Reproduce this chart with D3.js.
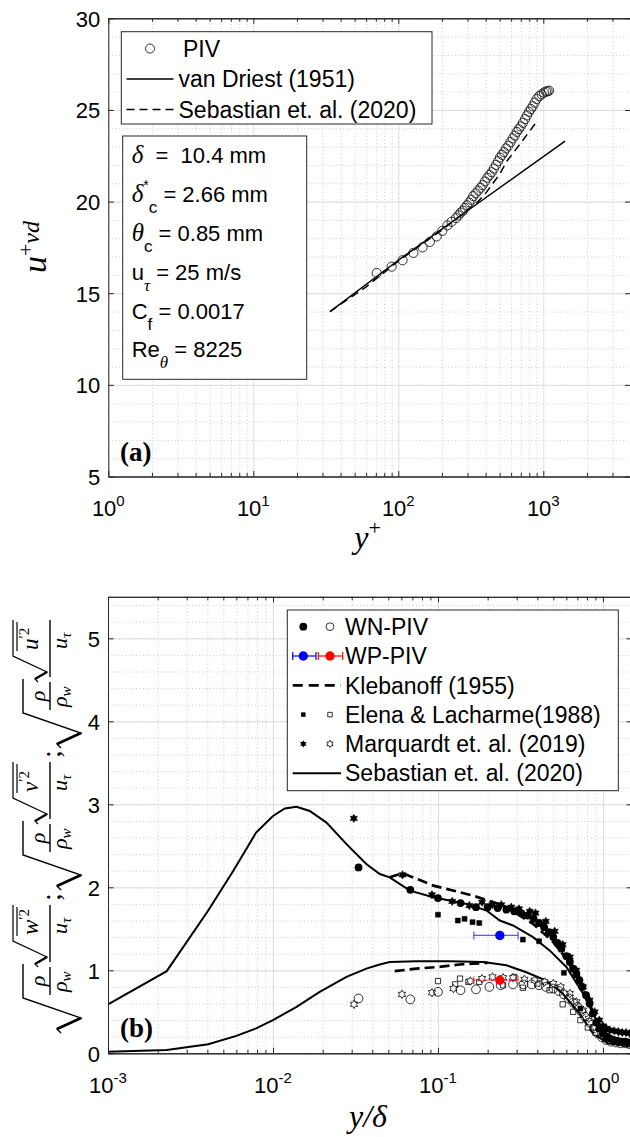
<!DOCTYPE html>
<html>
<head>
<meta charset="utf-8">
<script src="https://cdn.jsdelivr.net/npm/d3@7"></script>
<style>
body{margin:0;background:#fff}
</style>
</head>
<body>
<svg id="fig" width="630" height="1137" font-family="Liberation Sans, Arial, sans-serif"></svg>
<script>

// ---------- panel (a) : u+vd vs y+
var pivYp = [71,90,107,127,147,165,184,201,218,233,250,260,269,279,288,298,309,319,329,342,356,369,382,396,411,426,441,456,472,487,503,519,535,554,574,594,615,635,656,677,699,723,748,772,797,821,845,872,900,937,975,1010,1043,1070,1096];
var pivU  = [16.1,16.45,16.8,17.2,17.5,17.8,18.1,18.4,18.7,18.9,19.1,19.25,19.4,19.5,19.65,19.8,19.95,20.1,20.3,20.45,20.6,20.75,20.9,21.1,21.3,21.45,21.6,21.8,22.0,22.2,22.4,22.55,22.7,22.9,23.05,23.25,23.45,23.6,23.8,23.95,24.1,24.3,24.5,24.7,24.9,25.05,25.2,25.4,25.6,25.75,25.85,25.95,26.0,26.02,26.05];
var vdYp = [33.8,100,300,1413];
var vdU  = [14.0,16.8,19.5,23.3];
var sebAYp = [33.8,60,100,150,200,250,300,350,400,450,500,560,620,700,780,880];
var sebAU  = [14.0,15.35,16.75,17.75,18.45,19.05,19.55,19.95,20.45,21.0,21.5,22.2,22.65,23.2,23.7,24.25];
var xTicksA = [1,10,100,1000];
var xExpA = ['0','1','2','3'];
var yTicksA = [5,10,15,20,25,30];
var legendA = ['PIV','van Driest (1951)','Sebastian et. al. (2020)'];

// ---------- panel (b) : rms profiles vs y/delta
var sebUx = [0.001,0.00227,0.00405,0.00575,0.0079,0.01,0.0118,0.0139,0.0167,0.0211,0.0279,0.0368,0.0444,0.051,0.0676,0.0936,0.149,0.197,0.237,0.285,0.377,0.475,0.6,0.757,0.87,1.0,1.2,1.5];
var sebUv = [0.59,0.99,1.72,2.2,2.66,2.86,2.95,2.97,2.92,2.78,2.52,2.28,2.16,2.12,1.96,1.88,1.80,1.72,1.60,1.54,1.40,1.24,1.04,0.72,0.48,0.24,0.12,0.08];
var sebVx = [0.001,0.00227,0.00405,0.006,0.0079,0.01,0.0139,0.0192,0.0279,0.0368,0.0444,0.051,0.074,0.1175,0.188,0.26,0.34,0.45,0.57,0.72,0.87,1.07,1.5];
var sebVv = [0.02,0.04,0.11,0.21,0.30,0.40,0.56,0.74,0.92,1.02,1.07,1.10,1.11,1.11,1.10,1.06,0.98,0.88,0.72,0.48,0.24,0.12,0.08];
var klebUx = [0.051,0.061,0.094,0.163,0.25,0.377,0.5,0.6,0.757,0.87,1.0];
var klebUv = [2.12,2.17,2.02,1.90,1.78,1.56,1.34,1.14,0.78,0.5,0.26];
var klebVx = [0.0547,0.074,0.1,0.135,0.163,0.2];
var klebVv = [0.99,1.02,1.04,1.07,1.08,1.09];
var wnFx = [0.033,0.068,0.1,0.137,0.17,0.2,0.23,0.26,0.29,0.32,0.35,0.38,0.41,0.44,0.47,0.5,0.53,0.56,0.6,0.63,0.66,0.69,0.72,0.75,0.79,0.83,0.87,0.91,0.95,1.0,1.05,1.1,1.16,1.22,1.29,1.36,1.44];
var wnFv = [2.24,1.97,1.87,1.81,1.76,1.76,1.75,1.73,1.71,1.69,1.66,1.62,1.57,1.52,1.46,1.40,1.33,1.26,1.17,1.10,1.02,0.95,0.88,0.80,0.70,0.60,0.48,0.37,0.30,0.24,0.20,0.18,0.16,0.15,0.14,0.14,0.13];
var wnOx = [0.033,0.068,0.1,0.137,0.17,0.205,0.24,0.285,0.33,0.37,0.41,0.45,0.5,0.54,0.58,0.62,0.66,0.7,0.74,0.78,0.83,0.88,0.93,0.99,1.05,1.12,1.2,1.28,1.37,1.45];
var wnOv = [0.66,0.65,0.74,0.76,0.77,0.80,0.82,0.83,0.83,0.83,0.82,0.80,0.78,0.75,0.71,0.66,0.61,0.56,0.50,0.44,0.37,0.30,0.24,0.19,0.16,0.14,0.13,0.12,0.12,0.11];
var elFx = [0.1,0.132,0.145,0.162,0.178,0.327,0.41,0.58,0.73];
var elFv = [1.67,1.60,1.62,1.58,1.57,1.37,1.35,0.97,0.54];
var elOx = [0.1,0.127,0.136,0.153,0.178,0.248,0.29,0.327,0.4,0.475,0.57,0.66,0.73,0.81,0.9];
var elOv = [0.87,0.83,0.90,0.86,0.86,0.82,0.92,0.79,0.84,0.76,0.59,0.50,0.40,0.31,0.25];
var mqFx = [0.0309,0.061,0.092,0.122,0.155,0.185,0.214,0.242,0.278,0.31,0.36,0.39,0.45,0.51,0.57,0.63,0.69,0.757,0.83,0.89,0.95,1.0,1.05,1.1,1.17,1.24,1.31,1.38,1.45];
var mqFv = [2.83,2.15,1.91,1.83,1.78,1.82,1.79,1.79,1.76,1.74,1.71,1.69,1.59,1.47,1.31,1.16,1.0,0.80,0.64,0.50,0.40,0.33,0.30,0.28,0.27,0.26,0.25,0.25,0.24];
var mqOx = [0.031,0.0605,0.092,0.124,0.157,0.185,0.214,0.248,0.285,0.334,0.385,0.443,0.5,0.555,0.63,0.69,0.757,0.82,0.89,0.97,1.07,1.24];
var mqOv = [0.59,0.71,0.73,0.78,0.87,0.90,0.92,0.91,0.91,0.89,0.88,0.86,0.84,0.80,0.72,0.62,0.52,0.42,0.32,0.24,0.18,0.15];
var wpX = 0.237, wpLo = 0.165, wpHi = 0.306;
var wpBlue = 1.42, wpRed = 0.88;
var xTicksB = [0.001,0.01,0.1,1];
var xExpB = ['-3','-2','-1','0'];
var yTicksB = [0,1,2,3,4,5];
var legendB = ['WN-PIV','WP-PIV','Klebanoff (1955)','Elena & Lacharme(1988)','Marquardt et. al. (2019)','Sebastian et. al. (2020)'];

var svg = d3.select('#fig');
var ink = '#262626';
var sansF = 'Liberation Sans, Arial, sans-serif';
var serifI = 'Liberation Serif, Times New Roman, serif';

var PA = {left:108.3, right:630.6, top:18.3, bottom:476.5};
var PB = {left:108, right:632, top:596.8, bottom:1053.3};

var xA = d3.scaleLog().domain([1,4000]).range([PA.left,PA.right]);
var yA = d3.scaleLinear().domain([5,30]).range([PA.bottom,PA.top]);
var xB = d3.scaleLog().domain([1e-3,1.5]).range([PB.left,PB.right]);
var yB = d3.scaleLinear().domain([0,5.5]).range([PB.bottom,PB.top]);

function minorLog(dom){
	var out = [];
	for(var d=Math.floor(Math.log10(dom[0])); d<=Math.ceil(Math.log10(dom[1])); d++){
		for(var m=2;m<=9;m++){
			var v = m*Math.pow(10,d);
			if(v>dom[0] && v<dom[1]) out.push(v);
		}
	}
	return out;
}

function drawFrame(x, y, P, xMaj, yMaj, yMin){
	var g = svg.append('g');
	var w = P.right-P.left, h = P.bottom-P.top;
	var xMin = minorLog(x.domain());
	var dotted = function(s){ s.select('.domain').remove(); s.selectAll('line').attr('stroke','#bdbdbd').attr('stroke-dasharray','1,2.5').attr('stroke-width',0.8); };
	var solid = function(s){ s.select('.domain').remove(); s.selectAll('line').attr('stroke','#dedede').attr('stroke-width',1); };
	// minor grid (dotted)
	g.append('g').attr('transform','translate(0,'+P.bottom+')')
		.call(d3.axisBottom(x).tickValues(xMin).tickSize(-h).tickFormat('')).call(dotted);
	g.append('g').attr('transform','translate('+P.left+',0)')
		.call(d3.axisLeft(y).tickValues(yMin).tickSize(-w).tickFormat('')).call(dotted);
	// major grid
	g.append('g').attr('transform','translate(0,'+P.bottom+')')
		.call(d3.axisBottom(x).tickValues(xMaj).tickSize(-h).tickFormat('')).call(solid);
	g.append('g').attr('transform','translate('+P.left+',0)')
		.call(d3.axisLeft(y).tickValues(yMaj).tickSize(-w).tickFormat('')).call(solid);
}

function drawAxes(x, y, P, xMaj, xExp, yMaj){
	var g = svg.append('g');
	var xMin = minorLog(x.domain());
	var style = function(s){ s.selectAll('path,line').attr('stroke',ink).attr('stroke-width',1); };
	g.append('g').attr('transform','translate(0,'+P.bottom+')')
		.call(d3.axisBottom(x).tickValues(xMin).tickSize(-3.5).tickSizeOuter(0).tickFormat('')).call(style);
	g.append('g').attr('transform','translate(0,'+P.bottom+')')
		.call(d3.axisBottom(x).tickValues(xMaj).tickSize(-5.5).tickSizeOuter(0).tickFormat('')).call(style);
	g.append('g').attr('transform','translate(0,'+P.top+')')
		.call(d3.axisTop(x).tickValues(xMin).tickSize(-3.5).tickSizeOuter(0).tickFormat('')).call(style);
	g.append('g').attr('transform','translate(0,'+P.top+')')
		.call(d3.axisTop(x).tickValues(xMaj).tickSize(-5.5).tickSizeOuter(0).tickFormat('')).call(style);
	g.append('g').attr('transform','translate('+P.right+',0)')
		.call(d3.axisRight(y).tickValues(yMaj).tickSize(-5.5).tickSizeOuter(0).tickFormat('')).call(style);
	var ly = g.append('g').attr('transform','translate('+P.left+',0)')
		.call(d3.axisLeft(y).tickValues(yMaj).tickSize(-5.5).tickSizeOuter(0).tickPadding(8).tickFormat(d3.format('d'))).call(style);
	ly.selectAll('text').attr('font-size',22).attr('font-family',sansF).attr('fill','#000').attr('dy','0.36em');
	// decade labels with superscripts
	var t = g.selectAll('.xl').data(xMaj).enter().append('text')
		.attr('x', function(d){ return x(d); })
		.attr('y', P.bottom+39.5)
		.attr('text-anchor','middle')
		.attr('font-size',22);
	t.append('tspan').text('10');
	t.append('tspan').attr('dy',-10).attr('font-size',15).text(function(d,i){ return xExp[i]; });
}

function clip(id, P){
	svg.append('clipPath').attr('id',id).append('rect')
		.attr('x',P.left).attr('y',P.top).attr('width',P.right-P.left).attr('height',P.bottom-P.top);
}
clip('clipA',PA); clip('clipB',PB);

var hexagram = {
	draw: function(ctx, size){
		var r = Math.sqrt(size)*0.62, ri = r/Math.sqrt(3);
		for(var i=0;i<12;i++){
			var a = Math.PI/6*i - Math.PI/2;
			var rr = (i%2) ? ri : r;
			if(i==0) ctx.moveTo(rr*Math.cos(a), rr*Math.sin(a));
			else ctx.lineTo(rr*Math.cos(a), rr*Math.sin(a));
		}
		ctx.closePath();
	}
};

// ===================== panel (a)
drawFrame(xA, yA, PA, xTicksA, yTicksA, d3.range(5,31,1));

var dA = svg.append('g').attr('clip-path','url(#clipA)');
var lineA = d3.line().x(function(d){ return xA(d[0]); }).y(function(d){ return yA(d[1]); });

dA.append('path').datum(d3.zip(vdYp, vdU)).attr('d',lineA)
	.attr('fill','none').attr('stroke','#000').attr('stroke-width',1.5);
dA.append('path').datum(d3.zip(sebAYp, sebAU)).attr('d',lineA)
	.attr('fill','none').attr('stroke','#000').attr('stroke-width',1.5).attr('stroke-dasharray','8,5');
dA.selectAll('.piv').data(d3.zip(pivYp, pivU)).enter().append('circle')
	.attr('cx',function(d){ return xA(d[0]); })
	.attr('cy',function(d){ return yA(d[1]); })
	.attr('r',4.6)
	.attr('fill','none').attr('stroke','#1a1a1a').attr('stroke-width',0.9);

drawAxes(xA, yA, PA, xTicksA, xExpA, yTicksA);

// legend (a)
var lgA = svg.append('g');
lgA.append('rect').attr('x',121.3).attr('y',31.7).attr('width',310.7).attr('height',92.3)
	.attr('fill','#fff').attr('stroke',ink).attr('stroke-width',1);
var rowsA = [48.5,79,109.5];
lgA.append('circle').attr('cx',150).attr('cy',rowsA[0]).attr('r',4.5).attr('fill','none').attr('stroke','#1a1a1a').attr('stroke-width',0.9);
lgA.append('line').attr('x1',126.5).attr('x2',173.5).attr('y1',rowsA[1]).attr('y2',rowsA[1]).attr('stroke','#000').attr('stroke-width',1.5);
lgA.append('line').attr('x1',126.5).attr('x2',173.5).attr('y1',rowsA[2]).attr('y2',rowsA[2]).attr('stroke','#000').attr('stroke-width',1.5).attr('stroke-dasharray','8,5');
lgA.selectAll('.lt').data(legendA).enter().append('text')
	.attr('x',function(d,i){ return i==0 ? 183 : 178.5; })
	.attr('y',function(d,i){ return rowsA[i]+8.2; })
	.attr('font-size',23)
	.text(function(d){ return d; });

// parameter box
var ann = svg.append('g');
ann.append('rect').attr('x',122.7).attr('y',136).attr('width',184).attr('height',243.3)
	.attr('fill','#fff').attr('stroke',ink).attr('stroke-width',1);
var annBase = [163.3,202.1,240.9,279.7,318.5,357.3];
var annParts = [
	[['δ','i'],['\u00a0 =\u00a0 10.4 mm','n']],
	[['δ','i'],['*','sup'],['c','sub'],[' = 2.66 mm','n']],
	[['θ','i'],['c','sub'],[' = 0.85 mm','n']],
	[['u','n'],['τ','subi'],[' = 25 m/s','n']],
	[['C','n'],['f','sub'],[' = 0.0017','n']],
	[['Re','n'],['θ','subi'],[' = 8225','n']]
];
annParts.forEach(function(parts, i){
	var t = ann.append('text').attr('x',131.7).attr('y',annBase[i]).attr('font-size',22);
	var shift = 0;
	parts.forEach(function(p){
		var s = t.append('tspan').text(p[0]);
		var target = 0;
		if(p[1]=='i'){ s.attr('font-family',serifI).attr('font-style','italic').attr('font-size',25); }
		if(p[1]=='sup'){ s.attr('font-size',14); target = -12; }
		if(p[1]=='sub'){ s.attr('font-size',17); target = 11; }
		if(p[1]=='subi'){ s.attr('font-family',serifI).attr('font-style','italic').attr('font-size',17); target = 11; }
		if(target!=shift) s.attr('dy', target-shift);
		shift = target;
	});
});

svg.append('text').attr('x',120).attr('y',PA.bottom-16).attr('font-family',serifI)
	.attr('font-weight','bold').attr('font-size',27).text('(a)');

// axis labels (a)
var xlabA = svg.append('text').attr('x',367.5).attr('y',548).attr('text-anchor','middle')
	.attr('font-family',serifI).attr('font-style','italic').attr('font-size',32);
xlabA.append('tspan').text('y');
xlabA.append('tspan').attr('dy',-13).attr('font-size',22).attr('font-style','normal').text('+');

var ylabA = svg.append('text').attr('transform','translate(46,247) rotate(-90)').attr('text-anchor','middle')
	.attr('font-family',serifI).attr('font-style','italic').attr('font-size',34);
ylabA.append('tspan').text('u');
ylabA.append('tspan').attr('dy',-13).attr('font-size',22).attr('font-style','normal').text('+');
ylabA.append('tspan').attr('dy',6).attr('font-size',24).text('vd');

// ===================== panel (b)
drawFrame(xB, yB, PB, xTicksB, yTicksB, d3.range(0,5.51,0.2));

var dB = svg.append('g').attr('clip-path','url(#clipB)');
var lineB = d3.line().x(function(d){ return xB(d[0]); }).y(function(d){ return yB(d[1]); });

dB.append('path').datum(d3.zip(sebUx, sebUv)).attr('d',lineB).attr('fill','none').attr('stroke','#000').attr('stroke-width',2);
dB.append('path').datum(d3.zip(sebVx, sebVv)).attr('d',lineB).attr('fill','none').attr('stroke','#000').attr('stroke-width',2);
dB.append('path').datum(d3.zip(klebUx, klebUv)).attr('d',lineB).attr('fill','none').attr('stroke','#000').attr('stroke-width',2.7).attr('stroke-dasharray','10,5');
dB.append('path').datum(d3.zip(klebVx, klebVv)).attr('d',lineB).attr('fill','none').attr('stroke','#000').attr('stroke-width',2.7).attr('stroke-dasharray','10,5');

function sym(data, type, size, filled){
	dB.append('g').selectAll('path').data(data).enter().append('path')
		.attr('transform',function(d){ return 'translate('+xB(d[0])+','+yB(d[1])+')'; })
		.attr('d', d3.symbol().type(type).size(size))
		.attr('fill', filled ? '#000' : '#fff')
		.attr('stroke','#000').attr('stroke-width', filled ? 0.5 : 0.8);
}
sym(d3.zip(elOx, elOv), d3.symbolSquare, 28, false);
sym(d3.zip(mqOx, mqOv), hexagram, 46, false);
dB.append('g').selectAll('circle').data(d3.zip(wnOx, wnOv)).enter().append('circle')
	.attr('cx',function(d){ return xB(d[0]); }).attr('cy',function(d){ return yB(d[1]); })
	.attr('r',4.4).attr('fill','none').attr('stroke','#000').attr('stroke-width',0.8);
sym(d3.zip(elFx, elFv), d3.symbolSquare, 25, true);
dB.append('g').selectAll('circle').data(d3.zip(wnFx, wnFv)).enter().append('circle')
	.attr('cx',function(d){ return xB(d[0]); }).attr('cy',function(d){ return yB(d[1]); })
	.attr('r',3.9).attr('fill','#000');
sym(d3.zip(mqFx, mqFv), hexagram, 46, true);

// WP-PIV with error bars
[[wpBlue,'#0000ff'],[wpRed,'#ff0000']].forEach(function(p){
	var g = dB.append('g');
	var yy = yB(p[0]);
	g.append('line').attr('x1',xB(wpLo)).attr('x2',xB(wpHi)).attr('y1',yy).attr('y2',yy).attr('stroke',p[1]).attr('stroke-opacity',0.65).attr('stroke-width',1.2);
	[wpLo,wpHi].forEach(function(e){
		g.append('line').attr('x1',xB(e)).attr('x2',xB(e)).attr('y1',yy-4).attr('y2',yy+4).attr('stroke',p[1]).attr('stroke-opacity',0.65).attr('stroke-width',1.2);
	});
	g.append('circle').attr('cx',xB(wpX)).attr('cy',yy).attr('r',4.7).attr('fill',p[1]);
});

drawAxes(xB, yB, PB, xTicksB, xExpB, yTicksB);

// legend (b)
var lgB = svg.append('g');
lgB.append('rect').attr('x',287.3).attr('y',610).attr('width',331).attr('height',180.7)
	.attr('fill','#fff').attr('stroke',ink).attr('stroke-width',1);
var rowsB = [626.7,656,685.3,714.6,743.9,773.2];
var c1 = 303.3, c2 = 330;
lgB.append('circle').attr('cx',c1).attr('cy',rowsB[0]).attr('r',3.9).attr('fill','#000');
lgB.append('circle').attr('cx',c2).attr('cy',rowsB[0]).attr('r',3.9).attr('fill','none').attr('stroke','#000').attr('stroke-width',0.8);
[[c1,292.7,316,'#0000ff'],[c2,318.3,342.7,'#ff0000']].forEach(function(p){
	var yy = rowsB[1];
	lgB.append('line').attr('x1',p[1]).attr('x2',p[2]).attr('y1',yy).attr('y2',yy).attr('stroke',p[3]).attr('stroke-width',1.2);
	[p[1],p[2]].forEach(function(e){
		lgB.append('line').attr('x1',e).attr('x2',e).attr('y1',yy-4).attr('y2',yy+4).attr('stroke',p[3]).attr('stroke-width',1.2);
	});
	lgB.append('circle').attr('cx',p[0]).attr('cy',yy).attr('r',4.7).attr('fill',p[3]);
});
lgB.append('line').attr('x1',292.7).attr('x2',341).attr('y1',rowsB[2]).attr('y2',rowsB[2]).attr('stroke','#000').attr('stroke-width',2.7).attr('stroke-dasharray','10,6');
lgB.append('path').attr('transform','translate('+c1+','+rowsB[3]+')').attr('d',d3.symbol().type(d3.symbolSquare).size(20)()).attr('fill','#000');
lgB.append('path').attr('transform','translate('+c2+','+rowsB[3]+')').attr('d',d3.symbol().type(d3.symbolSquare).size(20)()).attr('fill','#fff').attr('stroke','#000').attr('stroke-width',0.8);
lgB.append('path').attr('transform','translate('+c1+','+rowsB[4]+')').attr('d',d3.symbol().type(hexagram).size(34)()).attr('fill','#000');
lgB.append('path').attr('transform','translate('+c2+','+rowsB[4]+')').attr('d',d3.symbol().type(hexagram).size(34)()).attr('fill','#fff').attr('stroke','#000').attr('stroke-width',0.8);
lgB.append('line').attr('x1',292.7).attr('x2',341).attr('y1',rowsB[5]).attr('y2',rowsB[5]).attr('stroke','#000').attr('stroke-width',2);
lgB.selectAll('.lt').data(legendB).enter().append('text')
	.attr('x',345).attr('y',function(d,i){ return rowsB[i]+8.2; })
	.attr('font-size',23)
	.text(function(d){ return d; });

svg.append('text').attr('x',120).attr('y',PB.bottom-16).attr('font-family',serifI)
	.attr('font-weight','bold').attr('font-size',27).text('(b)');

svg.append('text').attr('x',368).attr('y',1127).attr('text-anchor','middle')
	.attr('font-family',serifI).attr('font-style','italic').attr('font-size',32).text('y/δ');

// y label (b): three radical terms, rotated
var ylabTerms = [{T:1018, c:'w', semi:true},{T:875, c:'v', semi:true},{T:733, c:'u', semi:false}];
var lab = svg.append('g').attr('transform','translate(50,0) rotate(-90)');
ylabTerms.forEach(function(t){
	var g = lab.append('g').attr('transform','translate('+(-t.T)+',0)');
	var st = function(s, w){ return s.attr('fill','none').attr('stroke','#000').attr('stroke-width',w); };
	// outer radical sqrt(rho/rho_w)
	st(g.append('path').attr('d','M-15,11 L-11,7 L0,31 L20,-27 L54,-27'),1.4);
	st(g.append('path').attr('d','M-11,7 L0,31'),2.6);
	g.append('text').attr('x',37).attr('y',-5).attr('text-anchor','middle').attr('font-family',serifI).attr('font-style','italic').attr('font-size',22).text('ρ');
	st(g.append('line').attr('x1',23).attr('x2',51).attr('y1',0).attr('y2',0),1.4);
	var dn = g.append('text').attr('x',26).attr('y',17).attr('font-family',serifI).attr('font-style','italic').attr('font-size',22);
	dn.append('tspan').text('ρ');
	dn.append('tspan').attr('dy',4).attr('font-size',15).text('w');
	// inner fraction sqrt(c'^2)/u_tau
	st(g.append('line').attr('x1',56).attr('x2',113).attr('y1',0).attr('y2',0),1.4);
	st(g.append('path').attr('d','M51,-12 L54,-15 L61,-3 L77,-37 L113,-37'),1.2);
	st(g.append('path').attr('d','M54,-15 L61,-3'),2.2);
	st(g.append('line').attr('x1',82).attr('x2',111).attr('y1',-33).attr('y2',-33),1.2);
	var nm = g.append('text').attr('x',83).attr('y',-12).attr('font-family',serifI).attr('font-style','italic').attr('font-size',23);
	nm.append('tspan').text(t.c);
	nm.append('tspan').attr('dy',-9).attr('font-size',15).attr('font-style','normal').text('′2');
	var de = g.append('text').attr('x',84).attr('y',17).attr('font-family',serifI).attr('font-style','italic').attr('font-size',22);
	de.append('tspan').text('u');
	de.append('tspan').attr('dy',4).attr('font-size',15).text('τ');
	if(t.semi){
		g.append('text').attr('x',117).attr('y',10).attr('font-family',serifI).attr('font-size',28).text(';');
	}
});

console.log('done');
</script>
</body>
</html>
